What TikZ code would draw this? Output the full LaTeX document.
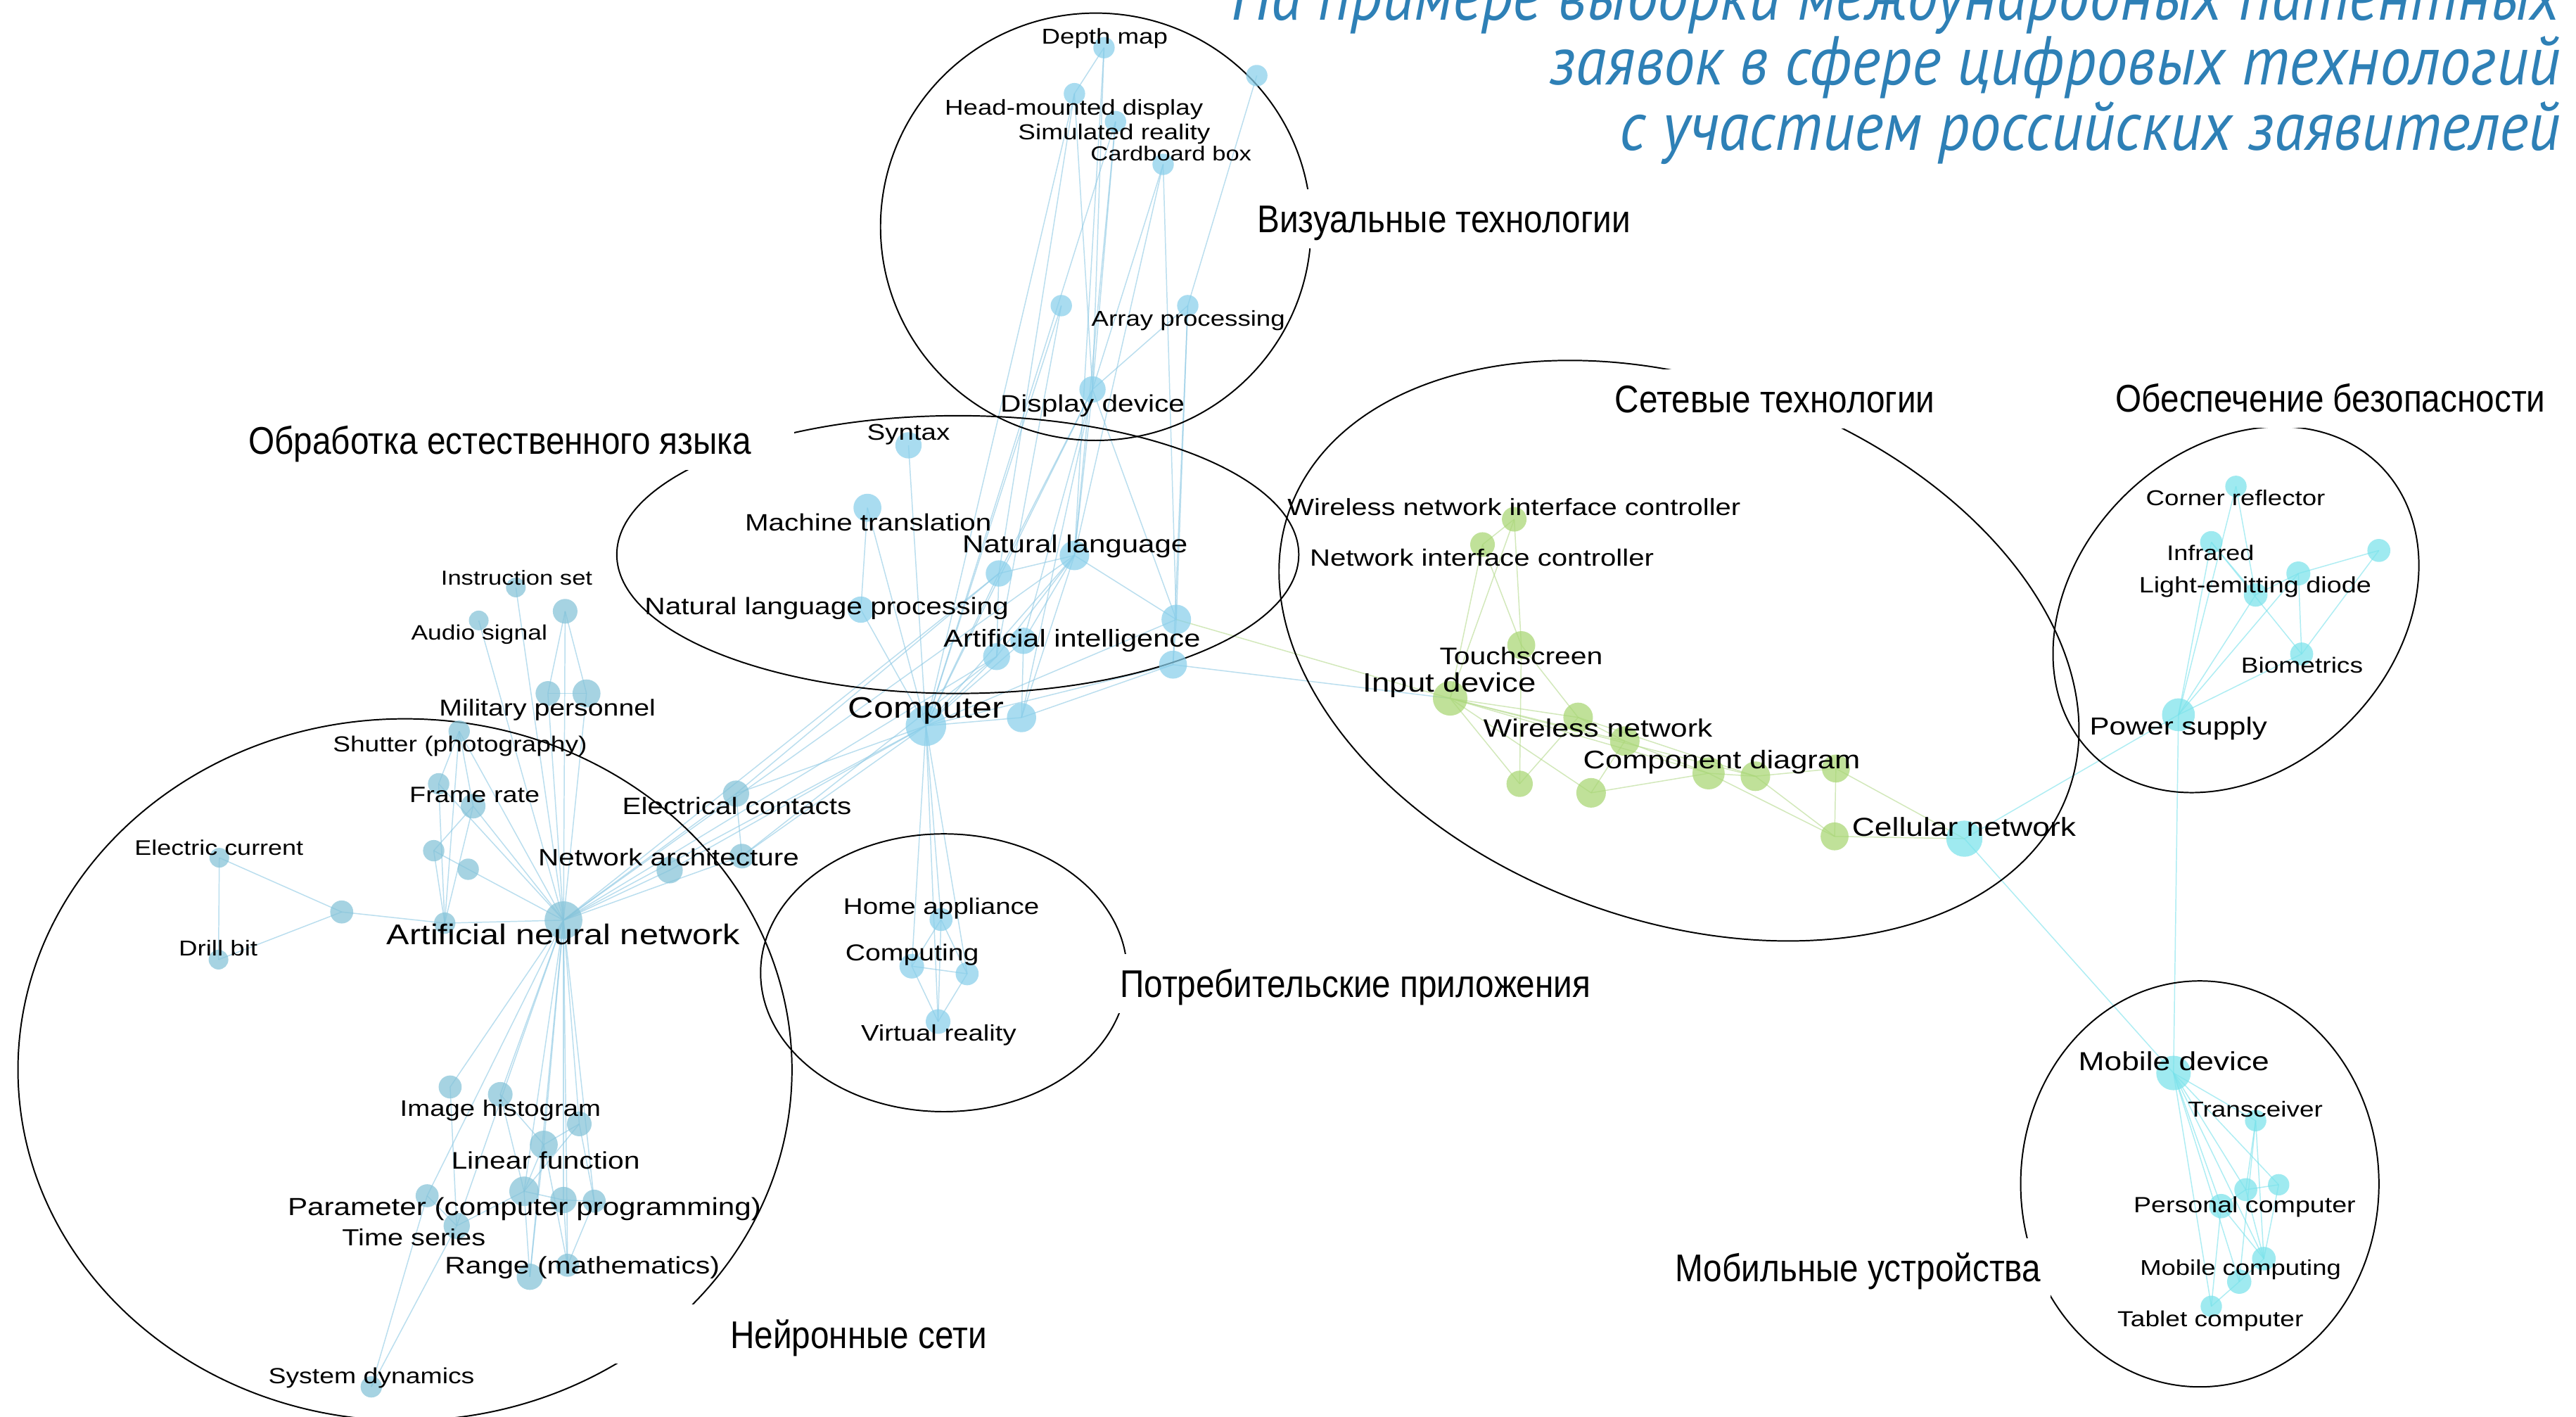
\documentclass[tikz,border=0pt]{standalone}
\usepackage{fontspec}
\setmainfont{Liberation Sans}[FakeStretch=1.2]
\newfontfamily\catfont{Liberation Sans}[FakeStretch=0.87]
\newfontfamily\titfont{PT Sans}[FakeStretch=0.9]
\usetikzlibrary{backgrounds}
\definecolor{nblue}{RGB}{136,207,235}
\definecolor{nlblue}{RGB}{132,195,216}
\definecolor{ngreen}{RGB}{168,214,115}
\definecolor{ncyan}{RGB}{122,227,235}
\definecolor{eblue}{RGB}{140,200,228}
\definecolor{egreen}{RGB}{180,218,140}
\definecolor{ecyan}{RGB}{120,226,236}
\definecolor{titleblue}{RGB}{46,128,182}
\begin{document}
\begin{tikzpicture}[x=0.025cm,y=-0.025cm,
 nd/.style={circle,inner sep=0pt,minimum size={#1*0.05cm}},
 bn/.style={nd=#1,fill=nblue,fill opacity=0.72},
 ln/.style={nd=#1,fill=nlblue,fill opacity=0.72},
 gn/.style={nd=#1,fill=ngreen,fill opacity=0.72},
 cn/.style={nd=#1,fill=ncyan,fill opacity=0.72},
 eb/.style={draw=eblue,line width=0.45pt,draw opacity=0.6},
 eg/.style={draw=egreen,line width=0.45pt,draw opacity=0.6},
 ec/.style={draw=ecyan,line width=0.45pt,draw opacity=0.6},
 lb/.style={anchor=base,inner sep=0pt,yshift={-0.2122pt*#1},
   font={\pgfmathsetlengthmacro\lbsz{0.5928pt*#1}\fontsize{\lbsz}{\lbsz}\selectfont}},
 cat/.style={font=\catfont\fontsize{16.7pt}{18pt}\selectfont,fill=white,
   inner xsep=4.3pt,inner ysep=6.8pt,text height=11.95pt,text depth=0pt},
 ell/.style={draw=black,line width=0.6pt},
 tl/.style={anchor=base east,inner sep=0pt,text=titleblue,
   font=\titfont\itshape\fontsize{29.9pt}{32pt}\selectfont}]

\useasboundingbox (0,0) rectangle (1568,862);

% ---------- cluster outlines
\draw[ell] (667,138) ellipse [x radius=3.275cm,y radius=3.25cm];
\draw[ell] (583,337.5) ellipse [x radius=5.1875cm,y radius=2.1125cm];
\draw[ell,rotate around={-20:(1022,396)}] (1022,396) ellipse [x radius=6.3cm,y radius=4.1cm];
\draw[ell,rotate around={45:(1361,371)}] (1361,371) ellipse [x radius=3.1cm,y radius=2.425cm];
\draw[ell] (1339,720.5) ellipse [x radius=2.725cm,y radius=3.0875cm];
\draw[ell] (246.5,651) ellipse [x radius=5.8875cm,y radius=5.3375cm];
\draw[ell] (574.5,592) ellipse [x radius=2.7875cm,y radius=2.1125cm];

% ---------- nodes: visual technologies
\node[bn=6.5] (vdm) at (672,29) {};
\node[bn=6.5] (vhmd) at (654,57) {};
\node[bn=6.5] (vsr) at (679,74) {};
\node[bn=6.5] (vcb) at (708,100) {};
\node[bn=6.5] (vlone) at (765,46) {};
\node[bn=6.5] (vx) at (646,186) {};
\node[bn=6.5] (vap) at (723,186) {};
\node[bn=8] (vdd) at (665,237) {};
% NLP / central
\node[bn=8] (syn) at (553,271) {};
\node[bn=8.5] (mt) at (528,309) {};
\node[bn=9] (nl) at (654,338) {};
\node[bn=8] (nx) at (608,349) {};
\node[bn=8] (nlp) at (524,371) {};
\node[bn=8] (ai1) at (623,390) {};
\node[bn=8.2] (ai2) at (606.6,399.6) {};
\node[bn=9] (r1) at (716,377) {};
\node[bn=8.5] (r2) at (714,404.5) {};
\node[bn=12.3] (comp) at (563.6,441.7) {};
\node[bn=8.9] (cx) at (621.8,436.7) {};
% left cluster
\node[ln=6] (iset) at (314,357.5) {};
\node[ln=7.5] (lx1) at (344,372) {};
\node[ln=6] (aud) at (291.4,377.6) {};
\node[ln=7.5] (mil1) at (333.5,422) {};
\node[ln=8.5] (mil2) at (357,422) {};
\node[ln=6.5] (shut) at (279.5,445) {};
\node[ln=6.5] (fr1) at (267,477) {};
\node[ln=7.5] (fr2) at (288,490.6) {};
\node[ln=8] (econt) at (448,483) {};
\node[ln=6.5] (lx2) at (264,517.7) {};
\node[ln=6.5] (lx3) at (285,529) {};
\node[ln=8] (na1) at (407.6,529.6) {};
\node[ln=7.5] (na2) at (451.6,521) {};
\node[ln=6] (ecur) at (133.5,522) {};
\node[ln=7] (lx4) at (208,555) {};
\node[ln=6.5] (lx5) at (270.7,561.8) {};
\node[ln=11.5] (ann) at (343,560) {};
\node[ln=6] (drill) at (133,584) {};
\node[ln=7] (ih1) at (274,661.5) {};
\node[ln=7.5] (ih2) at (304.5,666) {};
\node[ln=7.5] (lf1) at (352.6,684) {};
\node[ln=8.5] (lf2) at (331,696.6) {};
\node[ln=7] (pa1) at (260,727.7) {};
\node[ln=9] (pa2) at (319,725) {};
\node[ln=8] (pa3) at (343,730.3) {};
\node[ln=7] (pa4) at (361.7,731) {};
\node[ln=8] (ts) at (278,746) {};
\node[ln=8] (rg1) at (322.5,777) {};
\node[ln=7] (rg2) at (345.5,770) {};
\node[ln=6.5] (sd) at (226,844) {};
% consumer
\node[bn=7] (ha) at (572.8,559.6) {};
\node[bn=7.5] (cmpt) at (555,588) {};
\node[bn=7] (cx2) at (588.7,592.6) {};
\node[bn=7.5] (vr) at (571,621.7) {};
% network
\node[gn=7.5] (wnic) at (921.7,316) {};
\node[gn=7.5] (nic) at (902.4,331.4) {};
\node[gn=8.5] (tsc) at (926,392.6) {};
\node[gn=10.5] (inp) at (882.7,425) {};
\node[gn=9] (wn1) at (960.6,436.6) {};
\node[gn=9] (wn2) at (989,451) {};
\node[gn=8] (g1) at (925,477) {};
\node[gn=9] (g2) at (968.5,482.5) {};
\node[gn=9.8] (cd1) at (1040,470.6) {};
\node[gn=9] (cd2) at (1068.5,472.4) {};
\node[gn=8.5] (cd3) at (1117.5,467.7) {};
\node[gn=8.5] (g3) at (1116.7,509) {};
\node[cn=11] (cell) at (1195.7,510.4) {};
% security
\node[cn=6.5] (cr) at (1361,296) {};
\node[cn=6.8] (ir) at (1346,330) {};
\node[cn=7.3] (sx1) at (1399,349) {};
\node[cn=7] (sx2) at (1448,335) {};
\node[cn=7.2] (led) at (1373,362) {};
\node[cn=7] (bio) at (1401,398) {};
\node[cn=10] (pow) at (1326,435) {};
% mobile
\node[cn=10.5] (md) at (1323,653) {};
\node[cn=6.5] (trx) at (1373,682) {};
\node[cn=6.5] (mx1) at (1387,721) {};
\node[cn=7] (mx2) at (1367,724) {};
\node[cn=7.4] (mx3) at (1352,734) {};
\node[cn=7.2] (mc1) at (1378,766) {};
\node[cn=7.4] (mc2) at (1363,780) {};
\node[cn=6.5] (tab) at (1346,795) {};

% ---------- node labels
\node[lb=15.7] (Ldm) at (672.4,22.2) {Depth map};
\node[lb=15.7] (Lhmd) at (653.7,65.2) {Head-mounted display};
\node[lb=15.8] (Lsr) at (678.2,80.4) {Simulated reality};
\node[lb=14.8] (Lcb) at (712.8,93.6) {Cardboard box};
\node[lb=15.7] (Lap) at (723.3,193.8) {Array processing};
\node[lb=17.4] (Ldd) at (665,245.3) {Display device};
\node[lb=16.5] (Lsyn) at (553,263.1) {Syntax};
\node[lb=17.3] (Lmt) at (528.5,317.7) {Machine translation};
\node[lb=18] (Lnl) at (654.4,330.9) {Natural language};
\node[lb=17.4] (Lnlp) at (503.2,368.9) {Natural language processing};
\node[lb=17.8] (Lai) at (652.5,388.4) {Artificial intelligence};
\node[lb=21.6] (Lcomp) at (563.8,430.5) {Computer};
\node[lb=14.8] (Liset) at (314.5,351.6) {Instruction set};
\node[lb=15.2] (Laud) at (291.7,384.8) {Audio signal};
\node[lb=16.8] (Lmil) at (333.2,430.5) {Military personnel};
\node[lb=15.9] (Lshut) at (280,452.7) {Shutter (photography)};
\node[lb=16.2] (Lfr) at (288.9,483.3) {Frame rate};
\node[lb=17.3] (Lec) at (448.5,490.6) {Electrical contacts};
\node[lb=15.4] (Lecur) at (133.3,516) {Electric current};
\node[lb=17.3] (Lna) at (407,521.9) {Network architecture};
\node[lb=20.8] (Lann) at (343,568.8) {Artificial neural network};
\node[lb=15.7] (Ldrill) at (132.8,577.2) {Drill bit};
\node[lb=16.4] (Lih) at (304.6,674.3) {Image histogram};
\node[lb=17.5] (Llf) at (332.1,706) {Linear function};
\node[lb=18.06] (Lpa) at (319.2,734.2) {Parameter (computer programming)};
\node[lb=17] (Lts) at (251.9,753.1) {Time series};
\node[lb=17.5] (Lrg) at (354.4,770) {Range (mathematics)};
\node[lb=16] (Lsd) at (226.1,837.1) {System dynamics};
\node[lb=16.5] (Lha) at (573,551.6) {Home appliance};
\node[lb=16.8] (Lcmpt) at (555.2,579.7) {Computing};
\node[lb=16.4] (Lvr) at (571.4,628.5) {Virtual reality};
\node[lb=17.1] (Lwnic) at (921.6,308.7) {Wireless network interface controller};
\node[lb=17.2] (Lnic) at (902,339.3) {Network interface controller};
\node[lb=17.5] (Ltsc) at (925.9,399.2) {Touchscreen};
\node[lb=19.5] (Linp) at (882.3,415.4) {Input device};
\node[lb=18.3] (Lwn) at (972.7,442.9) {Wireless network};
\node[lb=18.6] (Lcd) at (1048,462.3) {Component diagram};
\node[lb=19] (Lcell) at (1195.5,503.2) {Cellular network};
\node[lb=15.7] (Lcr) at (1360.8,303.1) {Corner reflector};
\node[lb=15.4] (Lir) at (1345.5,336.6) {Infrared};
\node[lb=16.2] (Lled) at (1372.7,355.7) {Light-emitting diode};
\node[lb=15.9] (Lbio) at (1401.2,404.7) {Biometrics};
\node[lb=18] (Lpow) at (1326,441.7) {Power supply};
\node[lb=19] (Lmd) at (1323.2,645.9) {Mobile device};
\node[lb=15.8] (Ltrx) at (1372.8,675.2) {Transceiver};
\node[lb=16.1] (Lpc) at (1366.3,733.2) {Personal computer};
\node[lb=15.6] (Lmc) at (1363.8,771.3) {Mobile computing};
\node[lb=15.9] (Ltab) at (1345.5,802.5) {Tablet computer};

% ---------- cluster titles
\node[cat] (Cvis) at (878.9,133.2) {Визуальные технологии};
\node[cat,anchor=west] (Cnlp) at (145,268) {Обработка естественного языка\hspace*{14pt}};
\node[cat] (Cnet) at (1080.4,242.6) {Сетевые технологии};
\node[cat] (Csec) at (1418.6,242.3) {Обеспечение безопасности};
\node[cat] (Ccons) at (825,598.6) {Потребительские приложения};
\node[cat,anchor=east] (Cneu) at (607,812) {\hspace*{48pt}Нейронные сети};
\node[cat] (Cmob) at (1131,771.4) {Мобильные устройства};

% ---------- title
\node[tl] (T1) at (1558.6,12.1) {На примере выборки международных патентных};
\node[tl] (T2) at (1558.6,51.7) {заявок в сфере цифровых технологий};
\node[tl] (T3) at (1558.6,91.3) {с участием российских заявителей};

% ---------- edges (behind everything)
\begin{pgfonlayer}{background}
\fill[white] (0,0) rectangle (1568,862);
\foreach \a/\b in {vdm/vhmd,vdm/vdd,vdm/nl,vhmd/vdd,vhmd/comp,vhmd/nx,vsr/vdd,vsr/nl,vsr/comp,
  vcb/vdd,vcb/nl,vcb/r1,vlone/vap,vap/vdd,vap/r1,vap/r2,vx/comp,vx/ai2,vdd/nl,vdd/comp,vdd/r1,
  vdd/nx,vdd/ai1,vdd/cx,syn/comp,mt/nlp,mt/comp,nl/nx,nl/ai1,nl/ai2,nl/comp,nl/r1,nl/cx,nx/ai2,
  nx/comp,ai1/cx,ai1/comp,ai2/comp,r1/comp,r1/r2,r2/cx,r2/comp,nlp/comp,cx/comp,r2/inp,
  comp/ha,comp/cmpt,comp/vr,comp/cx2,ha/cmpt,ha/cx2,cmpt/cx2,cmpt/vr,cx2/vr,ha/vr,
  ann/comp,ann/nx,ann/ai2,ann/nl,econt/comp,na1/comp,na2/comp,na2/ai2,econt/nx,
  iset/ann,lx1/mil1,lx1/mil2,lx1/ann,aud/ann,mil1/mil2,mil1/ann,mil2/ann,shut/fr1,shut/fr2,
  shut/ann,shut/lx5,fr1/lx5,fr1/ann,fr2/lx2,fr2/lx5,fr2/ann,lx2/lx3,lx3/ann,lx2/lx5,ecur/lx4,
  ecur/drill,drill/lx4,lx4/lx5,lx5/ann,ann/na1,ann/na2,ann/econt,econt/na2,
  ann/ih1,ann/ih2,ann/lf1,ann/lf2,ann/pa1,ann/pa2,ann/pa3,ann/pa4,ann/ts,ann/rg1,ann/rg2,
  ih1/ts,ih2/lf2,ih2/pa2,lf1/lf2,lf1/pa2,lf2/pa2,lf2/rg1,pa2/pa3,pa3/pa4,pa2/rg1,pa3/rg2,
  pa4/rg2,pa1/ts,ts/pa2,sd/ts,sd/pa1,lf1/pa4,lf2/rg2}
  \draw[eb] (\a.center) -- (\b.center);
\foreach \a/\b in {wnic/nic,wnic/tsc,wnic/inp,nic/tsc,nic/inp,tsc/g1,tsc/wn1,inp/wn1,inp/wn2,
  inp/g1,inp/g2,inp/cd1,inp/cd2,g1/wn1,g2/wn2,g2/cd1,wn1/wn2,wn2/cd1,cd1/cd2,cd2/cd3,cd1/g3,
  cd2/g3,cd3/g3,cd3/cell,g3/cell,wn1/cd2,r1/inp}
  \draw[eg] (\a.center) -- (\b.center);
\foreach \a/\b in {cell/md,cell/pow,pow/md,pow/cr,pow/ir,pow/led,pow/sx1,pow/bio,cr/led,ir/led,
  ir/bio,led/sx1,sx1/sx2,sx1/bio,sx2/bio,md/trx,md/mx1,md/mx2,md/mx3,md/mc1,md/mc2,md/tab,
  trx/mx2,trx/mc2,trx/mc1,mx1/mx2,mx2/mx3,mx2/mc1,mx3/tab,mx3/mc1,mc1/mc2,mc2/tab,mx1/mc1}
  \draw[ec] (\a.center) -- (\b.center);
\end{pgfonlayer}
\end{tikzpicture}
\end{document}
